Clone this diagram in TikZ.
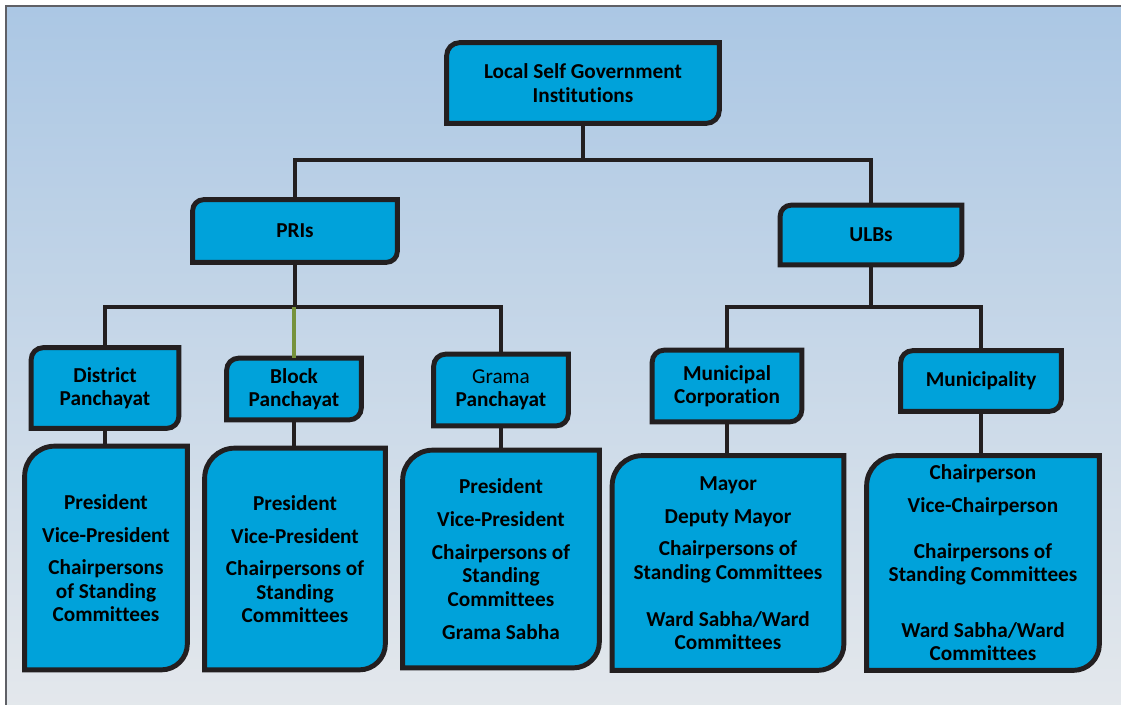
\documentclass[tikz,border=0pt]{standalone}
\usepackage{fontspec}
\setmainfont[Ligatures=NoCommon]{Carlito}
\usetikzlibrary{backgrounds}
\definecolor{box-fill}{HTML}{00A2DA}
\definecolor{box-line}{HTML}{231F20}
\definecolor{bg-top}{HTML}{ABC7E4}
\definecolor{bg-bottom}{HTML}{E4E8EC}
\definecolor{frame-line}{HTML}{5F6066}
\definecolor{link-green}{HTML}{76923C}
\tikzset{
  box/.style={rectangle, inner sep=0pt, align=center,
    font=\fontsize{12.1}{13.3}\selectfont\bfseries},
  box size/.style 2 args={minimum width=#1*0.02cm, minimum height=#2*0.02cm},
  frame/.style={draw=box-line, fill=box-fill, line width=2.8pt},
  link/.style={draw=box-line, line width=2.8pt},
}
% #1 node, #2 top left radius, #3 bottom right radius
\newcommand{\orgframe}[3]{%
  \filldraw[frame] ([yshift=-#2]#1.north west) arc[start angle=180, end angle=90, radius=#2]
    -- (#1.north east) -- ([yshift=#3]#1.south east) arc[start angle=0, end angle=-90, radius=#3]
    -- (#1.south west) -- cycle;
}

\begin{document}
\begin{tikzpicture}[x=0.02cm, y=-0.02cm]
\useasboundingbox (0,0) rectangle (1121,704);

\node (lsg)[box, box size={272}{80}] at (583,83) {Local Self Government\\Institutions};

\node (pri)[box, box size={204}{62}] at (295,231) {PRIs};
\node (ulb)[box, box size={181}{59}] at (871,235) {ULBs};

\node (dp)[box, box size={147}{80}] at (105,388) {District\\Panchayat};
\node (bp)[box, box size={134}{61}] at (294,389) {Block\\Panchayat};
\node (gp)[box, box size={134}{71}] at (501,390) {{\mdseries Grama}\\Panchayat};
\node (mc)[box, box size={149}{71}] at (727,386) {Municipal\\Corporation};
\node (mu)[box, box size={160}{60}] at (981,381) {Municipality};

\node (dpm)[box, box size={162}{223}] at (106,558)
  {President\\[5.4pt]Vice-President\\[5.4pt]Chairpersons\\of Standing\\Committees};
\node (bpm)[box, box size={180}{221}] at (295,559)
  {President\\[5.4pt]Vice-President\\[5.4pt]Chairpersons of\\Standing\\Committees};
\node (gpm)[box, box size={196}{217}] at (501,559)
  {President\\[5.4pt]Vice-President\\[5.4pt]Chairpersons of\\Standing\\Committees\\[5.4pt]Grama Sabha};
\node (mcm)[box, box size={231}{214}] at (728,563)
  {Mayor\\[5.4pt]Deputy Mayor\\[5.4pt]Chairpersons of\\Standing Committees\\[13.3pt]Ward Sabha/Ward\\Committees};
\node (mum)[box, box size={232}{214}] at (983,563)
  {Chairperson\\[5.4pt]Vice-Chairperson\\[12.8pt]Chairpersons of\\Standing Committees\\[18.4pt]Ward Sabha/Ward\\Committees};

\coordinate (top bus) at (0,160);
\coordinate (pri bus) at (0,307);
\coordinate (ulb bus) at (0,307);

\draw[link] (lsg.south) -- (lsg.south |- top bus) -| (pri.north);
\draw[link] (lsg.south |- top bus) -| (ulb.north);

\draw[link] (pri.south) -- (pri.south |- pri bus) -| (dp.north);
\draw[link] (pri.south |- pri bus) -| (gp.north);
\draw[link, draw=link-green] (bp.north |- pri bus) -- (bp.north);

\draw[link] (ulb.south) -- (ulb.south |- ulb bus) -| (mc.north);
\draw[link] (ulb.south |- ulb bus) -| (mu.north);

\draw[link] (dp.south) -- (dp.south |- dpm.north);
\draw[link] (bp.south) -- (bp.south |- bpm.north);
\draw[link] (gp.south) -- (gp.south |- gpm.north);
\draw[link] (mc.south) -- (mc.south |- mcm.north);
\draw[link] (mu.south) -- (mu.south |- mum.north);

\begin{scope}[on background layer]
\shade[top color=bg-top, bottom color=bg-bottom] (6,6) rectangle (1130,712);
\draw[frame-line, line width=1.5pt] (6,712) -- (6,6) -- (1130,6);

\orgframe{lsg}{0.26cm}{0.26cm}
\orgframe{pri}{0.22cm}{0.22cm}
\orgframe{ulb}{0.22cm}{0.22cm}
\orgframe{dp}{0.24cm}{0.24cm}
\orgframe{bp}{0.24cm}{0.24cm}
\orgframe{gp}{0.24cm}{0.24cm}
\orgframe{mc}{0.24cm}{0.24cm}
\orgframe{mu}{0.24cm}{0.24cm}
\orgframe{dpm}{0.6cm}{0.52cm}
\orgframe{bpm}{0.6cm}{0.52cm}
\orgframe{gpm}{0.6cm}{0.52cm}
\orgframe{mcm}{0.6cm}{0.52cm}
\orgframe{mum}{0.6cm}{0.52cm}
\end{scope}

\end{tikzpicture}
\end{document}
